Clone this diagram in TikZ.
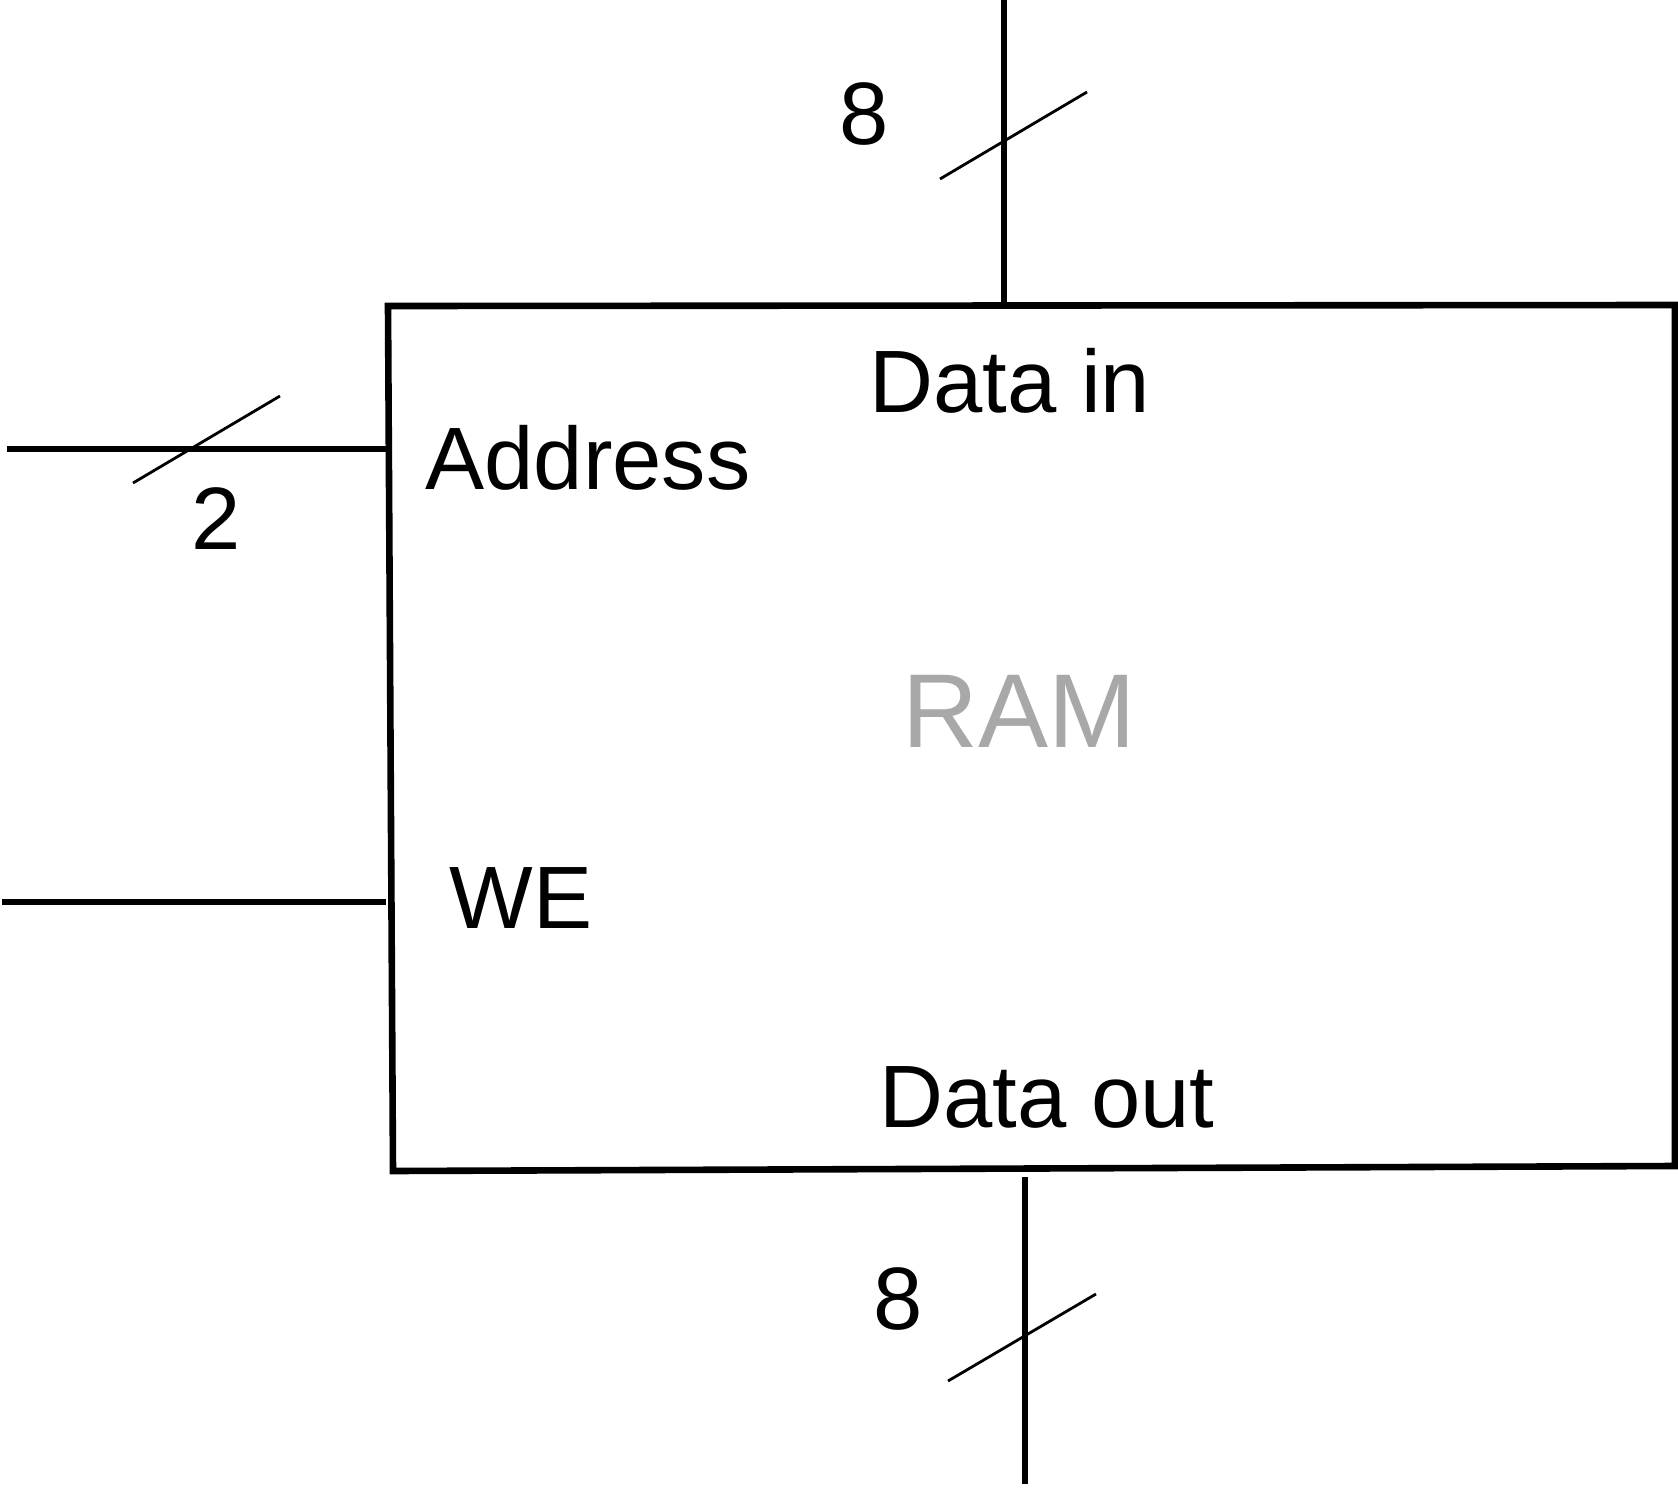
\documentclass[tikz,border=0pt]{standalone}
\usepackage{fontspec}
\setmainfont{Liberation Sans}
\definecolor{ramgray}{HTML}{A8A8A8}
\begin{document}
\begin{tikzpicture}[x=0.5pt,y=-0.5pt,
  wire/.style={line width=3.3pt,black},
  slash/.style={line width=1.4pt,black},
  lbl/.style={inner sep=0pt,anchor=base west,font=\fontsize{44.3pt}{48pt}\selectfont},
  title/.style={inner sep=0pt,anchor=base west,text=ramgray,font=\fontsize{52.5pt}{56pt}\selectfont}]
\useasboundingbox (0,0) rectangle (1678,1489);
% box corners
\coordinate (tl) at (388,306);
\coordinate (tr) at (1675,305);
\coordinate (br) at (1675,1166);
\coordinate (bl) at (393,1171);
\draw[wire,line join=miter] (tl) -- (tr) -- (br) -- (bl) -- cycle;
% wire ends
\coordinate (dinTop) at (1004,0);
\coordinate (dinBox) at (1004,305);
\coordinate (addrL) at (7,449);
\coordinate (addrBox) at (388,449);
\coordinate (weL) at (2,902);
\coordinate (weBox) at (386,902);
\coordinate (doutTop) at (1025,1177);
\coordinate (doutBot) at (1025,1484);
\draw[wire] (dinTop) -- (dinBox);
\draw[wire] (addrL) -- (addrBox);
\draw[wire] (weL) -- (weBox);
\draw[wire] (doutTop) -- (doutBot);
% bus slashes
\coordinate (s1a) at (940,179); \coordinate (s1b) at (1087,92);
\coordinate (s2a) at (133,483); \coordinate (s2b) at (280,396);
\coordinate (s3a) at (948,1381); \coordinate (s3b) at (1096,1294);
\draw[slash] (s1a) -- (s1b);
\draw[slash] (s2a) -- (s2b);
\draw[slash] (s3a) -- (s3b);
% labels
\node[lbl] (datain) at (869,412) {Data in};
\node[lbl] (address) at (425,489) {Address};
\node[lbl] (we) at (449,928) {WE};
\node[lbl] (dataout) at (879,1127) {Data out};
\node[title] (ram) at (902,747) {RAM};
\node[lbl] (n8top) at (839,144) {8};
\node[lbl] (n2) at (191,549) {2};
\node[lbl] (n8bot) at (873,1329) {8};
\end{tikzpicture}
\end{document}
